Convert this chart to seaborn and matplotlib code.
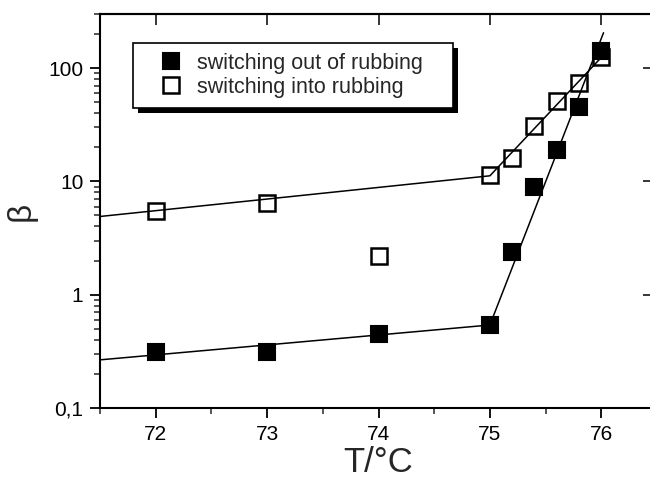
import numpy as np
import pandas as pd
import matplotlib
matplotlib.use("Agg")
import matplotlib.pyplot as plt
import seaborn as sns
from matplotlib.ticker import FixedLocator, LogLocator, NullFormatter, FixedFormatter, MultipleLocator, NullLocator
from matplotlib.patches import Rectangle

# ---- data ----
T_out = [72.0, 73.0, 74.0, 75.0, 75.2, 75.4, 75.6, 75.8, 76.0]
beta_out = [0.31, 0.31, 0.45, 0.54, 2.4, 8.9, 18.8, 45, 141]
T_in = [72.0, 73.0, 74.0, 75.0, 75.2, 75.4, 75.6, 75.8, 76.0]
beta_in = [5.5, 6.5, 2.2, 11.3, 16, 30.7, 51, 73.6, 125]

fit_out_T = [71.5, 75.0, 76.02]
fit_out_beta = [0.266, 0.54, 205]
fit_in_T = [71.5, 75.0, 76.05]
fit_in_beta = [4.9, 11.2, 140]

label_out = "switching out of rubbing"
label_in = "switching into rubbing"
ytick_vals = [0.1, 1, 10, 100]
ytick_labels = ["0,1", "1", "10", "100"]
xtick_vals = [72, 73, 74, 75, 76]

sns.set_style("ticks")
plt.rcParams['font.family'] = ['Liberation Sans', 'DejaVu Sans']

fig = plt.figure(figsize=(6.5, 4.83), dpi=100)
ax = fig.add_axes([100/650, 75/483, 557/650, 394/483])

d_out = pd.DataFrame({"T": T_out, "beta": beta_out})
d_in = pd.DataFrame({"T": T_in, "beta": beta_in})
f_out = pd.DataFrame({"T": fit_out_T, "beta": fit_out_beta})
f_in = pd.DataFrame({"T": fit_in_T, "beta": fit_in_beta})

sns.lineplot(data=f_out, x="T", y="beta", ax=ax, color="black", lw=1.1, sort=False, zorder=2)
sns.lineplot(data=f_in, x="T", y="beta", ax=ax, color="black", lw=1.1, sort=False, zorder=2)

ax.plot(d_out["T"], d_out["beta"], ls="none", marker="s", ms=11.5, mfc="black", mec="black",
        mew=1.5, zorder=3, label=label_out)
ax.plot(d_in["T"], d_in["beta"], ls="none", marker="s", ms=11, mfc="none", mec="black",
        mew=1.8, zorder=3, label=label_in)

ax.set_yscale("log")
ax.set_xlim(71.5, 76.5)
ax.set_ylim(0.1, 300)

ax.xaxis.set_major_locator(FixedLocator(xtick_vals))
ax.xaxis.set_minor_locator(MultipleLocator(0.5))
ax.yaxis.set_major_locator(FixedLocator(ytick_vals))
ax.yaxis.set_major_formatter(FixedFormatter(ytick_labels))
ax.yaxis.set_minor_locator(LogLocator(base=10, subs=np.arange(2, 10)))
ax.yaxis.set_minor_formatter(NullFormatter())

for s in ax.spines.values():
    s.set_linewidth(1.5)
    s.set_color("black")

ax.tick_params(axis="both", which="major", direction="out", length=7, width=1.3,
               labelsize=15, colors="black", pad=5)
ax.tick_params(axis="both", which="minor", direction="out", length=4, width=1.1)

# inward major ticks on top and right
secx = ax.secondary_xaxis("top")
secx.xaxis.set_major_locator(FixedLocator(xtick_vals))
secx.xaxis.set_minor_locator(NullLocator())
secx.tick_params(direction="in", length=8, width=1.3, labeltop=False)
secy = ax.secondary_yaxis("right")
secy.yaxis.set_major_locator(FixedLocator(ytick_vals))
secy.yaxis.set_minor_locator(NullLocator())
secy.tick_params(direction="in", length=10, width=1.3, labelright=False)
for sa in (secx, secy):
    for s in sa.spines.values():
        s.set_linewidth(1.5)

ax.set_xlabel("T/°C", fontsize=25, labelpad=2)
ax.set_ylabel("β", fontsize=24, labelpad=8)

leg = ax.legend(loc="upper left", bbox_to_anchor=(33/557, (408-47)/394, 320/557, 0.01),
                mode="expand", frameon=True,
                fancybox=False, edgecolor="black", framealpha=1, fontsize=15.5,
                borderpad=0.45, labelspacing=0.15, handletextpad=-0.07, borderaxespad=0,
                handlelength=2.6, markerscale=1.0)
leg.get_frame().set_linewidth(1.2)
leg.set_zorder(6)

fig.canvas.draw()
bb = leg.get_window_extent()
shadow = Rectangle((bb.x0 + 5, bb.y0 - 5), bb.width, bb.height, transform=None,
                   facecolor="black", edgecolor="none", zorder=5.5)
ax.add_artist(shadow)

fig.savefig("out.png", dpi=100)
